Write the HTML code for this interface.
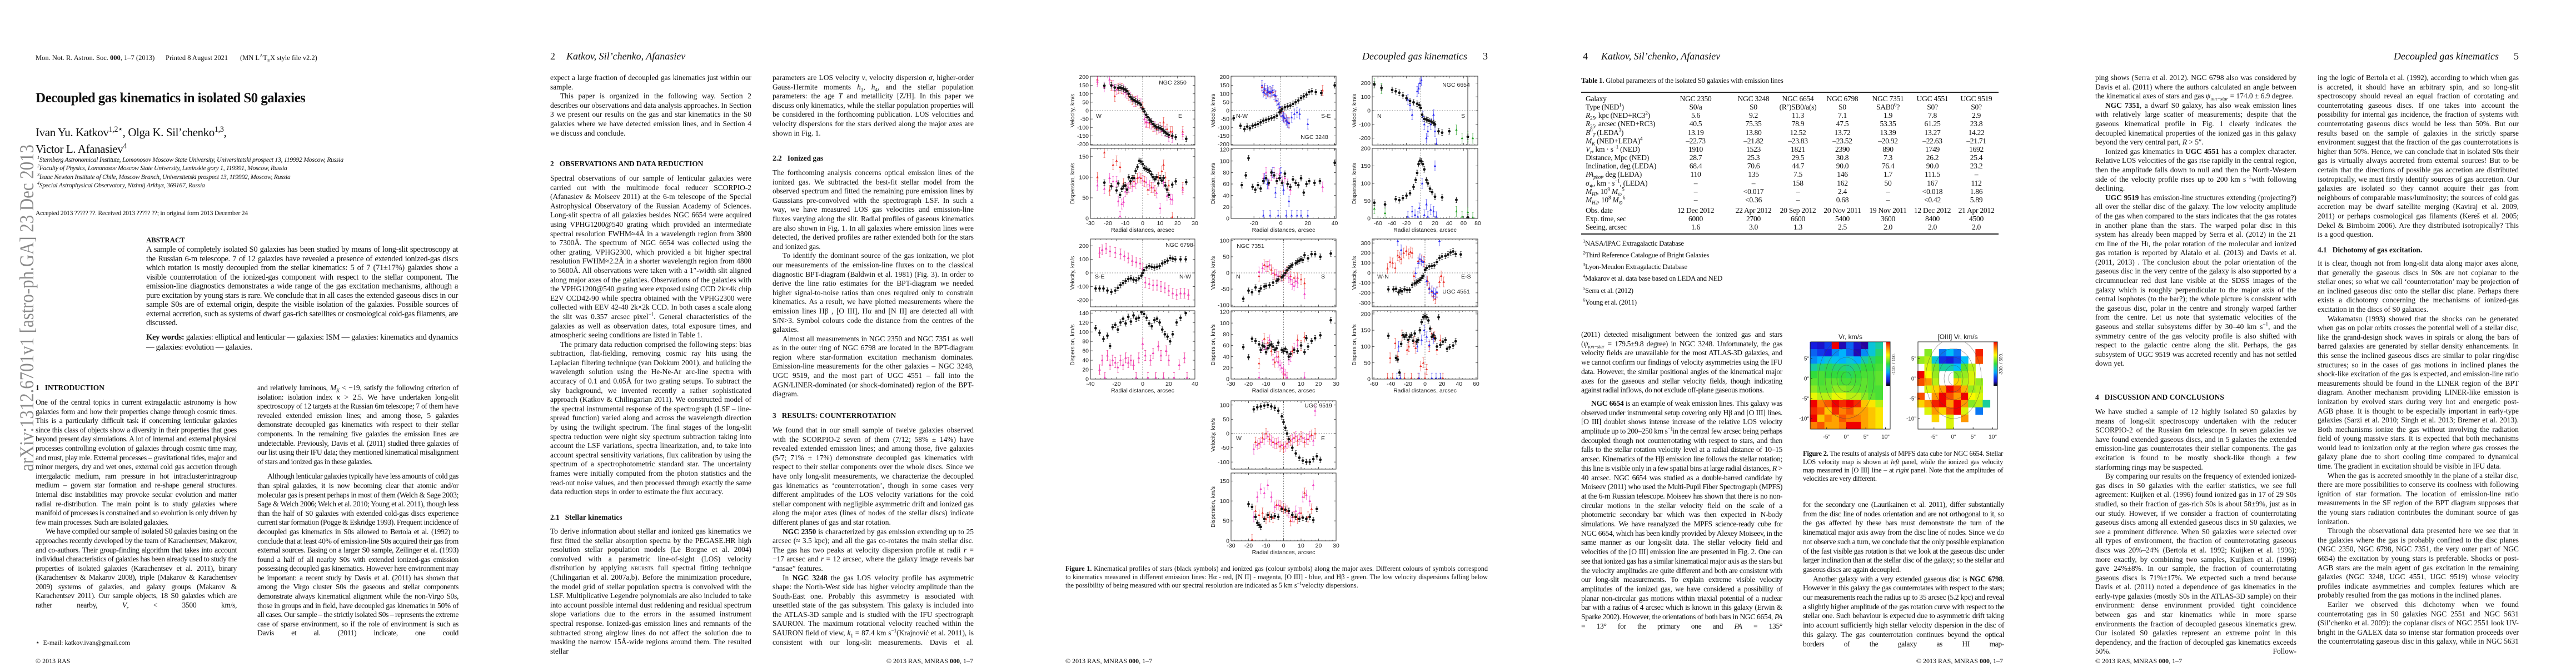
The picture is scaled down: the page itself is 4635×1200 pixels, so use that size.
<!DOCTYPE html>
<html><head><meta charset="utf-8">
<style>
html,body{margin:0;padding:0;background:#fff;}
body{width:4635px;height:1200px;position:relative;overflow:hidden;font-family:"Liberation Serif",serif;color:#111;}
.abs{position:absolute;}
.col{position:absolute;width:362px;text-align:justify;font-size:13.4px;line-height:16.6px;hyphens:auto;}
.col p{margin:0;text-indent:18px;}
.col p.ni{text-indent:0;}
.col p.cont{text-align-last:justify;}
.tc{font-size:13.6px;letter-spacing:-0.35px;word-spacing:-0.3px;}
.hd{position:absolute;font-weight:bold;font-size:13.4px;line-height:16.6px;white-space:nowrap;}
.run{position:absolute;font-style:italic;font-size:18px;white-space:nowrap;}
.foot{position:absolute;font-size:12px;white-space:nowrap;}
sup,sub{font-size:0.68em;line-height:0;}
.tr{position:absolute;font-size:13.6px;white-space:nowrap;line-height:15px;letter-spacing:-0.3px;}
.tv{position:absolute;width:110px;margin-left:-55px;text-align:center;font-size:13.6px;line-height:15px;white-space:nowrap;letter-spacing:-0.3px;}
.fn{position:absolute;font-size:12.8px;white-space:nowrap;letter-spacing:-0.3px;}
svg text{font-family:"Liberation Sans",sans-serif;}
</style></head><body>

<!-- arXiv stamp -->
<svg class="abs" style="left:0;top:0" width="100" height="1200">
<text x="0" y="0" transform="translate(60,848) rotate(-90)" font-family="Liberation Serif, serif" font-size="36" fill="#8a8a8a" textLength="588" lengthAdjust="spacingAndGlyphs" style="font-family:'Liberation Serif',serif">arXiv:1312.6701v1  [astro-ph.GA]  23 Dec 2013</text>
</svg>

<!-- ================= PAGE 1 ================= -->
<div>
<div class="foot" style="left:64px;top:97px;font-size:12.5px">Mon. Not. R. Astron. Soc. <b>000</b>, 1–7 (2013)</div>
<div class="foot" style="left:298px;top:97px;font-size:12.5px">Printed 8 August 2021</div>
<div class="foot" style="left:432px;top:97px;font-size:12.5px">(MN L<sup>A</sup>T<sub>E</sub>X style file v2.2)</div>
<div class="abs" style="left:64px;top:163px;font-size:25px;font-weight:bold;letter-spacing:-0.6px;white-space:nowrap">Decoupled gas kinematics in isolated S0 galaxies</div>
<div class="abs" style="left:64px;top:226px;font-size:21px;letter-spacing:-0.4px;white-space:nowrap">Ivan Yu. Katkov<sup>1,2⋆</sup>, Olga K. Sil’chenko<sup>1,3</sup>,</div>
<div class="abs" style="left:64px;top:256px;font-size:21px;letter-spacing:-0.4px;white-space:nowrap">Victor L. Afanasiev<sup>4</sup></div>
<div class="abs" style="left:67px;top:280px;font-size:11.8px;font-style:italic;line-height:15.3px;white-space:nowrap;letter-spacing:-0.3px">
<div><sup>1</sup>Sternberg Astronomical Institute, Lomonosov Moscow State University, Universitetski prospect 13, 119992 Moscow, Russia</div>
<div><sup>2</sup>Faculty of Physics, Lomonosov Moscow State University, Leninskie gory 1, 119991, Moscow, Russia</div>
<div><sup>3</sup>Isaac Newton Institute of Chile, Moscow Branch, Universitetski prospect 13, 119992, Moscow, Russia</div>
<div><sup>4</sup>Special Astrophysical Observatory, Nizhnij Arkhyz, 369167, Russia</div>
</div>
<div class="abs" style="left:64px;top:376px;font-size:11.8px;white-space:nowrap;letter-spacing:-0.3px">Accepted 2013 ????? ??. Received 2013 ????? ??; in original form 2013 December 24</div>
<div class="abs" style="left:263px;top:425px;font-size:12.8px;font-weight:bold">ABSTRACT</div>
<div class="abs" style="left:263px;top:441px;width:561px;font-size:14.6px;line-height:16.5px;text-align:justify;letter-spacing:-0.35px">A sample of completely isolated S0 galaxies has been studied by means of long-slit spectroscopy at the Russian 6-m telescope. 7 of 12 galaxies have revealed a presence of extended ionized-gas discs which rotation is mostly decoupled from the stellar kinematics: 5 of 7 (71±17%) galaxies show a visible counterrotation of the ionized-gas component with respect to the stellar component. The emission-line diagnostics demonstrates a wide range of the gas excitation mechanisms, although a pure excitation by young stars is rare. We conclude that in all cases the extended gaseous discs in our sample S0s are of external origin, despite the visible isolation of the galaxies. Possible sources of external accretion, such as systems of dwarf gas-rich satellites or cosmological cold-gas filaments, are discussed.</div>
<div class="abs" style="left:263px;top:599px;width:561px;font-size:14.6px;line-height:17.5px;text-align:justify;letter-spacing:-0.35px"><b>Key words:</b>  galaxies: elliptical and lenticular — galaxies: ISM — galaxies: kinematics and dynamics — galaxies: evolution — galaxies.</div>
<div class="hd" style="left:64px;top:690px">1&nbsp;&nbsp;&nbsp;INTRODUCTION</div>
<div class="col tc" style="left:64px;top:716px">
<p class="ni">One of the central topics in current extragalactic astronomy is how galaxies form and how their properties change through cosmic times. This is a particularly difficult task if concerning lenticular galaxies since this class of objects show a diversity in their properties that goes beyond present day simulations. A lot of internal and external physical processes controlling evolution of galaxies through cosmic time may, and must, play role. External processes – gravitational tides, major and minor mergers, dry and wet ones, external cold gas accretion through intergalactic medium, ram pressure in hot intracluster/intragroup medium – govern star formation and re-shape general structures. Internal disc instabilities may provoke secular evolution and matter radial re-distribution. The main point is to study galaxies where manifold of processes is constrained and so evolution is only driven by few main processes. Such are isolated galaxies.</p>
<p class="cont">We have compiled our sample of isolated S0 galaxies basing on the approaches recently developed by the team of Karachentsev, Makarov, and co-authors. Their group-finding algorithm that takes into account individual characteristics of galaxies has been already used to study the properties of isolated galaxies (Karachentsev et al. 2011), binary (Karachentsev &amp; Makarov 2008), triple (Makarov &amp; Karachentsev 2009) systems of galaxies, and galaxy groups (Makarov &amp; Karachentsev 2011). Our sample objects, 18 S0 galaxies which are rather nearby, <i>V<sub>r</sub></i> &lt; 3500 km/s,</p>
</div>
<div class="abs" style="left:64px;top:1149px;font-size:12px">⋆&nbsp; E-mail: katkov.ivan@gmail.com</div>
<div class="col tc" style="left:463px;top:690px">
<p class="ni">and relatively luminous, <i>M<sub>K</sub></i> &lt; −19, satisfy the following criterion of isolation: isolation index <i>κ</i> &gt; 2.5. We have undertaken long-slit spectroscopy of 12 targets at the Russian 6m telescope; 7 of them have revealed extended emission lines; and among those, 5 galaxies demonstrate decoupled gas kinematics with respect to their stellar components. In the remaining five galaxies the emission lines are undetectable. Previously, Davis et al. (2011) studied three galaxies of our list using their IFU data; they mentioned kinematical misalignment of stars and ionized gas in these galaxies.</p>
<p class="cont" style="margin-top:10px">Although lenticular galaxies typically have less amounts of cold gas than spiral galaxies, it is now becoming clear that atomic and/or molecular gas is present perhaps in most of them (Welch &amp; Sage 2003; Sage &amp; Welch 2006; Welch et al. 2010; Young et al. 2011), though less than the half of S0 galaxies with extended cold-gas discs experience current star formation (Pogge &amp; Eskridge 1993). Frequent incidence of decoupled gas kinematics in S0s allowed to Bertola et al. (1992) to conclude that at least 40% of emission-line S0s acquired their gas from external sources. Basing on a larger S0 sample, Zeilinger et al. (1993) found a half of all nearby S0s with extended ionized-gas emission possessing decoupled gas kinematics. However here environment may be important: a recent study by Davis et al. (2011) has shown that among the Virgo cluster S0s the gaseous and stellar components demonstrate always kinematical alignment while the non-Virgo S0s, those in groups and in field, have decoupled gas kinematics in 50% of all cases. Our sample – the strictly isolated S0s – represents the extreme case of sparse environment, so if the role of environment is such as Davis et al. (2011) indicate, one could</p>
</div>
<div class="foot" style="left:64px;top:1182px">© 2013 RAS</div>
</div>

<!-- ================= PAGE 2 ================= -->
<div>
<div class="run" style="left:990px;top:91px;font-style:normal">2</div>
<div class="run" style="left:1019px;top:91px">Katkov, Sil’chenko, Afanasiev</div>
<div class="col" style="left:990px;top:132px">
<p class="ni">expect a large fraction of decoupled gas kinematics just within our sample.</p>
<p>This paper is organized in the following way. Section 2 describes our observations and data analysis approaches. In Section 3 we present our results on the gas and star kinematics in the S0 galaxies where we have detected emission lines, and in Section 4 we discuss and conclude.</p>
</div>
<div class="hd" style="left:990px;top:287px">2&nbsp;&nbsp;&nbsp;OBSERVATIONS AND DATA REDUCTION</div>
<div class="col" style="left:990px;top:313px">
<p class="ni">Spectral observations of our sample of lenticular galaxies were carried out with the multimode focal reducer SCORPIO-2 (Afanasiev &amp; Moiseev 2011) at the 6-m telescope of the Special Astrophysical Observatory of the Russian Academy of Sciences. Long-slit spectra of all galaxies besides NGC 6654 were acquired using VPHG1200@540 grating which provided an intermediate spectral resolution FWHM≈4Å in a wavelength region from 3800 to 7300Å. The spectrum of NGC 6654 was collected using the other grating, VPHG2300, which provided a bit higher spectral resolution FWHM≈2.2Å in a shorter wavelength region from 4800 to 5600Å. All observations were taken with a 1″-width slit aligned along major axes of the galaxies. Observations of the galaxies with the VPHG1200@540 grating were exposed using CCD 2k×4k chip E2V CCD42-90 while spectra obtained with the VPHG2300 were collected with EEV 42-40 2k×2k CCD. In both cases a scale along the slit was 0.357 arcsec pixel<sup>−1</sup>. General characteristics of the galaxies as well as observation dates, total exposure times, and atmospheric seeing conditions are listed in Table 1.</p>
<p>The primary data reduction comprised the following steps: bias subtraction, flat-fielding, removing cosmic ray hits using the Laplacian filtering technique (van Dokkum 2001), and building the wavelength solution using the He-Ne-Ar arc-line spectra with accuracy of 0.1 and 0.05Å for two grating setups. To subtract the sky background, we invented recently a rather sophisticated approach (Katkov &amp; Chilingarian 2011). We constructed model of the spectral instrumental response of the spectrograph (LSF – line-spread function) varied along and across the wavelength direction by using the twilight spectrum. The final stages of the long-slit spectra reduction were night sky spectrum subtraction taking into account the LSF variations, spectra linearization, and, to take into account spectral sensitivity variations, flux calibration by using the spectrum of a spectrophotometric standard star. The uncertainty frames were initially computed from the photon statistics and the read-out noise values, and then processed through exactly the same data reduction steps in order to estimate the flux accuracy.</p>
</div>
<div class="hd" style="left:990px;top:923px">2.1&nbsp;&nbsp;&nbsp;Stellar kinematics</div>
<div class="col" style="left:990px;top:948px">
<p class="ni cont">To derive information about stellar and ionized gas kinematics we first fitted the stellar absorption spectra by the PEGASE.HR high resolution stellar population models (Le Borgne et al. 2004) convolved with a parametric line-of-sight (LOS) velocity distribution by applying <span style="font-variant:small-caps">nbursts</span> full spectral fitting technique (Chilingarian et al. 2007a,b). Before the minimization procedure, the model grid of stellar population spectra is convolved with the LSF. Multiplicative Legendre polynomials are also included to take into account possible internal dust reddening and residual spectrum slope variations due to the errors in the assumed instrument spectral response. Ionized-gas emission lines and remnants of the subtracted strong airglow lines do not affect the solution due to masking the narrow 15Å-wide regions around them. The resulted stellar</p>
</div>
<div class="col" style="left:1390px;top:132px">
<p class="ni">parameters are LOS velocity <i>v</i>, velocity dispersion <i>σ</i>, higher-order Gauss-Hermite moments <i>h</i><sub>3</sub>, <i>h</i><sub>4</sub>, and the stellar population parameters: the age <i>T</i> and metallicity [Z/H]. In this paper we discuss only kinematics, while the stellar population properties will be considered in the forthcoming publication. LOS velocities and velocity dispersions for the stars derived along the major axes are shown in Fig. 1.</p>
</div>
<div class="hd" style="left:1390px;top:277px">2.2&nbsp;&nbsp;&nbsp;Ionized gas</div>
<div class="col" style="left:1390px;top:303px">
<p class="ni">The forthcoming analysis concerns optical emission lines of the ionized gas. We subtracted the best-fit stellar model from the observed spectrum and fitted the remaining pure emission lines by Gaussians pre-convolved with the spectrograph LSF. In such a way, we have measured LOS gas velocities and emission-line fluxes varying along the slit. Radial profiles of gaseous kinematics are also shown in Fig. 1. In all galaxies where emission lines were detected, the derived profiles are rather extended both for the stars and ionized gas.</p>
<p>To identify the dominant source of the gas ionization, we plot our measurements of the emission-line fluxes on to the classical diagnostic BPT-diagram (Baldwin et al. 1981) (Fig. 3). In order to derive the line ratio estimates for the BPT-diagram we needed higher signal-to-noise ratios than ones required only to constrain kinematics. As a result, we have plotted measurements where the emission lines Hβ , [O III], Hα and [N II] are detected all with S/N&gt;3. Symbol colours code the distance from the centres of the galaxies.</p>
<p>Almost all measurements in NGC 2350 and NGC 7351 as well as in the outer ring of NGC 6798 are located in the BPT-diagram region where star-formation excitation mechanism dominates. Emission-line measurements for the other galaxies – NGC 3248, UGC 9519, and the most part of UGC 4551 – fall into the AGN/LINER-dominated (or shock-dominated) region of the BPT-diagram.</p>
</div>
<div class="hd" style="left:1390px;top:740px">3&nbsp;&nbsp;&nbsp;RESULTS: COUNTERROTATION</div>
<div class="col" style="left:1390px;top:766px">
<p class="ni">We found that in our small sample of twelve galaxies observed with the SCORPIO-2 seven of them (7/12; 58% ± 14%) have revealed extended emission lines; and among those, five galaxies (5/7; 71% ± 17%) demonstrate decoupled gas kinematics with respect to their stellar components over the whole discs. Since we have only long-slit measurements, we characterize the decoupled gas kinematics as ‘counterrotation’, though in some cases very different amplitudes of the LOS velocity variations for the cold stellar component with negligible asymmetric drift and ionized gas along the major axes (lines of nodes of the stellar discs) indicate different planes of gas and star rotation.</p>
<p><b>NGC 2350</b> is characterized by gas emission extending up to 25 arcsec (≈ 3.5 kpc); and all the gas co-rotates the main stellar disc. The gas has two peaks at velocity dispersion profile at radii <i>r</i> = −17 arcsec and <i>r</i> = 12 arcsec, where the galaxy image reveals bar “ansae” features.</p>
<p class="cont">In <b>NGC 3248</b> the gas LOS velocity profile has asymmetric shape: the North-West side has higher velocity amplitude than the South-East one. Probably this asymmetry is associated with unsettled state of the gas subsystem. This galaxy is included into the ATLAS-3D sample and is studied with the IFU spectrograph SAURON. The maximum rotational velocity reached within the SAURON field of view, <i>k</i><sub>1</sub> = 87.4 km s<sup>−1</sup>(Krajnović et al. 2011), is consistent with our long-slit measurements. Davis et al.</p>
</div>
<div class="foot" style="left:1751px;top:1182px;transform:translateX(-100%)">© 2013 RAS, MNRAS <b>000</b>, 1–7</div>
</div>

<!-- ================= PAGE 3 ================= -->
<div>
<div class="run" style="left:2640px;top:91px;transform:translateX(-100%)">Decoupled gas kinematics</div>
<div class="run" style="left:2668px;top:91px;font-style:normal">3</div>
<svg id="fig1" class="abs" style="left:0;top:0" width="4635" height="1200"></svg>
<div class="abs" style="left:1917px;top:1016px;width:760px;font-size:12.3px;line-height:15px;text-align:justify"><b>Figure 1.</b> Kinematical profiles of stars (black symbols) and ionized gas (colour symbols) along the major axes. Different colours of symbols correspond to kinematics measured in different emission lines: Hα - red, [N II] - magenta, [O III] - blue, and Hβ - green. The low velocity dispersions falling below the possibility of being measured with our spectral resolution are indicated as 5 km s<sup>−1</sup>velocity dispersions.</div>
<div class="foot" style="left:1917px;top:1182px">© 2013 RAS, MNRAS <b>000</b>, 1–7</div>
</div>

<!-- ================= PAGE 4 ================= -->
<div>
<div class="run" style="left:2848px;top:91px;font-style:normal">4</div>
<div class="run" style="left:2881px;top:91px">Katkov, Sil’chenko, Afanasiev</div>
<div class="abs" style="left:2845px;top:137px;font-size:13px;white-space:nowrap;letter-spacing:-0.3px"><b>Table 1.</b> Global parameters of the isolated S0 galaxies with emission lines</div>
<div class="abs" style="left:2845px;top:165px;width:751px;height:2px;background:#222"></div>
<div class="abs" style="left:2845px;top:420px;width:751px;height:2px;background:#222"></div>
<div id="table1"></div>
<div class="fn" style="left:2848px;top:431px"><sup>1</sup>NASA/IPAC Extragalactic Database</div>
<div class="fn" style="left:2848px;top:452px"><sup>2</sup>Third Reference Catalogue of Bright Galaxies</div>
<div class="fn" style="left:2848px;top:473px"><sup>3</sup>Lyon-Meudon Extragalactic Database</div>
<div class="fn" style="left:2848px;top:494px"><sup>4</sup>Makarov et al. data base based on LEDA and NED</div>
<div class="fn" style="left:2848px;top:516px"><sup>5</sup>Serra et al. (2012)</div>
<div class="fn" style="left:2848px;top:537px"><sup>6</sup>Young et al. (2011)</div>
<div class="col tc" style="left:2845px;top:594px;line-height:16.7px">
<p class="ni">(2011) detected misalignment between the ionized gas and stars (<i>ψ<sub>ion−star</sub></i> = 179.5±9.8 degree) in NGC 3248. Unfortunately, the gas velocity fields are unavailable for the most ATLAS-3D galaxies, and we cannot confirm our findings of velocity asymmetries using the IFU data. However, the similar positional angles of the kinematical major axes for the gaseous and stellar velocity fields, though indicating against radial inflows, do not exclude off-plane gaseous motions.</p>
<p class="cont" style="margin-top:7px"><b>NGC 6654</b> is an example of weak emission lines. This galaxy was observed under instrumental setup covering only Hβ and [O III] lines. [O III] doublet shows intense increase of the relative LOS velocity amplitude up to 200–250 km s<sup>−1</sup>in the central few arcsec being perhaps decoupled though not counterrotating with respect to stars, and then falls to the stellar rotation velocity level at a radial distance of 10–15 arcsec. Kinematics of the Hβ emission line follows the stellar rotation; this line is visible only in a few spatial bins at large radial distances, <i>R</i> &gt; 40 arcsec. NGC 6654 was studied as a double-barred candidate by Moiseev (2011) who used the Multi-Pupil Fiber Spectrograph (MPFS) at the 6-m Russian telescope. Moiseev has shown that there is no non-circular motions in the stellar velocity field on the scale of a photometric secondary bar which was then expected in N-body simulations. We have reanalyzed the MPFS science-ready cube for NGC 6654, which has been kindly provided by Alexey Moiseev, in the same manner as our long-slit data. The stellar velocity field and velocities of the [O III] emission line are presented in Fig. 2. One can see that ionized gas has a similar kinematical major axis as the stars but the velocity amplitudes are quite different and both are consistent with our long-slit measurements. To explain extreme visible velocity amplitudes of the ionized gas, we have considered a possibility of planar non-circular gas motions within triaxial potential of a nuclear bar with a radius of 4 arcsec which is known in this galaxy (Erwin &amp; Sparke 2002). However, the orientations of both bars in NGC 6654, <i>PA</i> = 13° for the primary one and <i>PA</i> = 135°</p>
</div>
<svg id="fig2" class="abs" style="left:3230px;top:590px" width="390" height="210"></svg>
<div class="abs" style="left:3244px;top:809px;width:360px;font-size:12.6px;line-height:15px;text-align:justify;letter-spacing:-0.3px"><b>Figure 2.</b> The results of analysis of MPFS data cube for NGC 6654. Stellar LOS velocity map is shown at <i>left</i> panel, while the ionized gas velocity map measured in [O III] line – at <i>right</i> panel. Note that the amplitudes of velocities are very different.</div>
<div class="col tc" style="left:3244px;top:900px;line-height:16.7px">
<p class="ni">for the secondary one (Laurikainen et al. 2011), differ substantially from the disc line of nodes orientation and are not orthogonal to it, so the gas affected by these bars must demonstrate the turn of the kinematical major axis away from the disc line of nodes. Since we do not observe such a turn, we conclude that the only possible explanation of the fast visible gas rotation is that we look at the gaseous disc under larger inclination than at the stellar disc of the galaxy; so the stellar and gaseous discs are again decoupled.</p>
<p class="cont">Another galaxy with a very extended gaseous disc is <b>NGC 6798</b>. However in this galaxy the gas counterrotates with respect to the stars; our measurements reach the radius up to 35 arcsec (5.2 kpc) and reveal a slightly higher amplitude of the gas rotation curve with respect to the stellar one. Such behaviour is expected due to asymmetric drift taking into account sufficiently high stellar velocity dispersion in the disc of this galaxy. The gas counterrotation continues beyond the optical borders of the galaxy as HI map-</p>
</div>
<div class="foot" style="left:3604px;top:1182px;transform:translateX(-100%)">© 2013 RAS, MNRAS <b>000</b>, 1–7</div>
</div>

<!-- ================= PAGE 5 ================= -->
<div>
<div class="run" style="left:4496px;top:91px;transform:translateX(-100%)">Decoupled gas kinematics</div>
<div class="run" style="left:4523px;top:91px;font-style:normal">5</div>
<div class="col" style="left:3770px;top:132px">
<p class="ni">ping shows (Serra et al. 2012). NGC 6798 also was considered by Davis et al. (2011) where the authors calculated an angle between the kinematical axes of stars and gas <i>ψ<sub>ion−star</sub></i> = 174.0 ± 6.9 degree.</p>
<p><b>NGC 7351</b>, a dwarf S0 galaxy, has also weak emission lines with relatively large scatter of measurements; despite that the gaseous kinematical profile in Fig. 1 clearly indicates the decoupled kinematical properties of the ionized gas in this galaxy beyond the very central part, <i>R</i> &gt; 5″.</p>
<p>Ionized gas kinematics in <b>UGC 4551</b> has a complex character. Relative LOS velocities of the gas rise rapidly in the central region, then the amplitude falls down to null and then the North-Western side of the velocity profile rises up to 200 km s<sup>−1</sup>with following declining.</p>
<p><b>UGC 9519</b> has emission-line structures extending (projecting?) all over the stellar disc of the galaxy. The low velocity amplitude of the gas when compared to the stars indicates that the gas rotates in another plane than the stars. The warped polar disc in this system has already been mapped by Serra et al. (2012) in the 21 cm line of the H<span style="font-variant:small-caps">i</span>, the polar rotation of the molecular and ionized gas rotation is reported by Alatalo et al. (2013) and Davis et al. (2011, 2013) . The conclusion about the polar orientation of the gaseous disc in the very centre of the galaxy is also supported by a circumnuclear red dust lane visible at the SDSS images of the galaxy which is roughly perpendicular to the major axis of the central isophotes (to the bar?); the whole picture is consistent with the gaseous disc, polar in the centre and strongly warped farther from the centre. Let us note that systematic velocities of the gaseous and stellar subsystems differ by 30–40 km s<sup>−1</sup>, and the symmetry centre of the gas velocity profile is also shifted with respect to the galactic centre along the slit. Perhaps, the gas subsystem of UGC 9519 was accreted recently and has not settled down yet.</p>
</div>
<div class="hd" style="left:3770px;top:707px">4&nbsp;&nbsp;&nbsp;DISCUSSION AND CONCLUSIONS</div>
<div class="col" style="left:3770px;top:733px">
<p class="ni">We have studied a sample of 12 highly isolated S0 galaxies by means of long-slit spectroscopy undertaken with the reducer SCORPIO-2 of the Russian 6m telescope. In seven galaxies we have found extended gaseous discs, and in 5 galaxies the extended emission-line gas counterrotates their stellar components. The gas excitation is found to be mostly shock-like though a few starforming rings may be suspected.</p>
<p class="cont">By comparing our results on the frequency of extended ionized-gas discs in S0 galaxies with the earlier statistics, we see full agreement: Kuijken et al. (1996) found ionized gas in 17 of 29 S0s studied, so their fraction of gas-rich S0s is about 58±9%, just as in our study. However, if we consider a fraction of counterrotating gaseous discs among all extended gaseous discs in S0 galaxies, we see a prominent difference. When S0 galaxies were selected over all types of environment, the fraction of counterrotating gaseous discs was 20%–24% (Bertola et al. 1992; Kuijken et al. 1996); more exactly, by combining two samples, Kuijken et al. (1996) gave 24%±8%. In our sample, the fraction of counterrotating gaseous discs is 71%±17%. We expected such a trend because Davis et al. (2011) noted a dependence of gas kinematics in the early-type galaxies (mostly S0s in the ATLAS-3D sample) on their environment: dense environment provided tight coincidence between gas and star kinematics while in more sparse environments the fraction of decoupled gaseous kinematics grew. Our isolated S0 galaxies represent an extreme point in this dependency, and the fraction of decoupled gas kinematics exceeds 50%. Follow-</p>
</div>
<div class="col" style="left:4170px;top:132px">
<p class="ni">ing the logic of Bertola et al. (1992), according to which when gas is accreted, it should have an arbitrary spin, and so long-slit spectroscopy should reveal an equal fraction of corotating and counterrotating gaseous discs. If one takes into account the possibility for internal gas incidence, the fraction of systems with counterrotating gaseous discs would be less than 50%. But our results based on the sample of galaxies in the strictly sparse environment suggest that the fraction of the gas counterrotations is higher than 50%. Hence, we can conclude that in isolated S0s their gas is virtually always accreted from external sources! But to be certain that the directions of possible gas accretion are distributed isotropically, we must firstly identify sources of gas accretion. Our galaxies are isolated so they cannot acquire their gas from neighbours of comparable mass/luminosity; the sources of cold gas accretion may be dwarf satellite merging (Kaviraj et al. 2009, 2011) or perhaps cosmological gas filaments (Kereš et al. 2005; Dekel &amp; Birnboim 2006). Are they distributed isotropically? This is a good question.</p>
</div>
<div class="hd" style="left:4170px;top:442px">4.1&nbsp;&nbsp;&nbsp;Dichotomy of gas excitation.</div>
<div class="col" style="left:4170px;top:466px">
<p class="ni">It is clear, though not from long-slit data along major axes alone, that generally the gaseous discs in S0s are not coplanar to the stellar ones; so what we call ‘counterrotation’ may be projection of an inclined gaseous disc onto the stellar disc plane. Perhaps there exists a dichotomy concerning the mechanisms of ionized-gas excitation in the discs of S0 galaxies.</p>
<p>Wakamatsu (1993) showed that the shocks can be generated when gas on polar orbits crosses the potential well of a stellar disc, like the grand-design shock waves in spirals or along the bars of barred galaxies are generated by stellar density enhancements. In this sense the inclined gaseous discs are similar to polar ring/disc structures; so in the cases of gas motions in inclined planes the shock-like excitation of the gas is expected, and emission-line ratio measurements should be found in the LINER region of the BPT diagram. Another mechanism providing LINER-like emission is ionization by evolved stars during very hot and energetic post-AGB phase. It is thought to be especially important in early-type galaxies (Sarzi et al. 2010; Singh et al. 2013; Bremer et al. 2013). Both mechanisms ionize the gas without involving the radiation field of young massive stars. It is expected that both mechanisms would lead to ionization only at the region where gas crosses the galaxy plane due to short cooling time compared to dynamical time. The gradient in excitation should be visible in IFU data.</p>
<p>When the gas is accreted smoothly in the plane of a stellar disc, there are more possibilities to conserve its coolness with following ignition of star formation. The location of emission-line ratio measurements in the SF region of the BPT diagram supposes that the young stars radiation contributes the dominant source of gas ionization.</p>
<p>Through the observational data presented here we see that in the galaxies where the gas is probably confined to the disc planes (NGC 2350, NGC 6798, NGC 7351, the very outer part of NGC 6654) the excitation by young stars is preferable. Shocks or post-AGB stars are the main agent of gas excitation in the remaining galaxies (NGC 3248, UGC 4551, UGC 9519) whose velocity profiles indicate asymmetries and complex features which are probably resulted from the gas motions in the inclined planes.</p>
<p class="cont">Earlier we observed this dichotomy when we found counterrotating gas in S0 galaxies NGC 2551 and NGC 5631 (Sil’chenko et al. 2009): the coplanar discs of NGC 2551 look UV-bright in the GALEX data so intense star formation proceeds over the counterrotating gaseous disc in this galaxy, while in NGC 5631</p>
</div>
<div class="foot" style="left:3770px;top:1182px">© 2013 RAS, MNRAS <b>000</b>, 1–7</div>
</div>

<script>
// ---------- Table 1 data ----------
const tableGalaxies = ["NGC 2350","NGC 3248","NGC 6654","NGC 6798","NGC 7351","UGC 4551","UGC 9519"];
const tableRowLabels = ["Galaxy","Type (NED<sup>1</sup>)","<i>R</i><sub>25</sub>, kpc (NED+RC3<sup>2</sup>)","<i>R</i><sub>25</sub>, arcsec (NED+RC3)","<i>B</i><sup>0</sup><sub><i>T</i></sub> (LEDA<sup>3</sup>)","<i>M<sub>K</sub></i> (NED+LEDA)<sup>4</sup>","<i>V<sub>r</sub></i>, km · s<sup>−1</sup> (NED)","Distance, Mpc (NED)","Inclination, deg (LEDA)","<i>PA<sub>phot</sub></i>, deg (LEDA)","<i>σ</i><sub>∗</sub>, km · <i>s</i><sup>−1</sup>, (LEDA)","<i>M<sub>HI</sub></i>, 10<sup>9</sup> <i>M</i><sub>⊙</sub><sup>5</sup>","<i>M</i><sub><i>H</i>2</sub>, 10<sup>8</sup> <i>M</i><sub>⊙</sub><sup>6</sup>","Obs. date","Exp. time, sec","Seeing, arcsec"];
const tableRows = [
 tableGalaxies,
 ["S0/a","S0","(R’)SB0/a(s)","S0","SAB0<sup>0</sup>?","S0?","S0?"],
 ["5.6","9.2","11.3","7.1","1.9","7.8","2.9"],
 ["40.5","75.35","78.9","47.5","53.35","61.25","23.8"],
 ["13.19","13.80","12.52","13.72","13.39","13.27","14.22"],
 ["–22.73","–21.82","–23.83","–23.52","–20.92","–22.63","–21.71"],
 ["1910","1523","1821","2390","890","1749","1692"],
 ["28.7","25.3","29.5","30.8","7.3","26.2","25.4"],
 ["68.4","70.6","44.7","90.0","76.4","90.0","23.2"],
 ["110","135","7.5","146","1.7","111.5","–"],
 ["–","–","158","162","50","167","112"],
 ["–","&lt;0.017","–","2.4","–","&lt;0.018","1.86"],
 ["–","&lt;0.36","–","0.68","–","&lt;0.42","5.89"],
 ["12 Dec 2012","22 Apr 2012","20 Sep 2012","20 Nov 2011","19 Nov 2011","12 Dec 2012","21 Apr 2012"],
 ["6000","2700","6600","5400","3600","8400","4500"],
 ["1.6","3.0","1.3","2.5","2.0","2.0","2.0"]
];
(function(){
 const host=document.getElementById('table1');
 const colX=[3051,3155,3235,3315,3397,3477,3556];
 for(let r=0;r<tableRows.length;r++){
  const yc = r<13 ? 178+r*15.15 : 379+(r-13)*15.1;
  const lab=document.createElement('div');
  lab.className='tr';
  lab.style.left='2853px'; lab.style.top=(yc-8)+'px';
  lab.innerHTML=tableRowLabels[r];
  
  
  host.appendChild(lab);
  for(let c=0;c<7;c++){
   const d=document.createElement('div');
   d.className='tv';
   d.style.left=colX[c]+'px'; d.style.top=(yc-8)+'px';
   d.innerHTML=tableRows[r][c];
   
   
   host.appendChild(d);
  }
 }
})();

// ---------- Figure 1 data (radius arcsec, km/s) ----------
const ngc2350_vel_star=[[-22,148],[-18,150],[-16,137],[-14,135],[-13,137],[-12,133],[-11,130],[-10,125],[-9,115],[-8,100],[-7,80],[-6,70],[-5,62],[-4,55],[-3,50],[-2,45],[-1,35],[0,10],[1,-5],[2,-25],[3,-40],[4,-55],[5,-65],[6,-80],[7,-90],[8,-100],[9,-100],[10,-105],[11,-110],[12,-120],[13,-130],[14,-138],[15,-145],[17,-150],[19,-158],[25,-168]];
const ngc2350_vel_nii=[[-26,172],[-22,140],[-19,185],[-17,150],[-15,125],[-13,135],[-11,125],[-10,110],[-9,100],[-7,80],[-5,55],[-3,60],[-1,40],[1,-50],[2,-65],[3,-70],[5,-80],[7,-95],[9,-105],[11,-120],[13,-125],[15,-155],[17,-160],[23,-140]];
const ngc2350_vel_ha=[[-26,185],[-18,150],[-16,85],[-14,130],[-12,130],[-10,110],[-8,90],[-6,65],[-4,55],[-2,45],[0,20],[2,-70],[4,-75],[6,-95],[8,-110],[10,-100],[12,-70],[14,-110],[16,-125],[17,-125],[23,-125]];
const ngc2350_disp_star=[[-22,87],[-18,78],[-15,68],[-14,85],[-13,57],[-12,72],[-11,78],[-10,80],[-9,70],[-8,100],[-7,90],[-6,98],[-5,98],[-4,115],[-3,125],[-2,140],[-1,138],[0,132],[1,122],[2,120],[3,118],[4,115],[5,107],[6,100],[7,95],[8,100],[9,85],[10,98],[11,92],[12,98],[13,80],[14,70],[15,57],[17,82],[19,90],[25,88]];
const ngc2350_disp_nii=[[-26,80],[-22,72],[-19,98],[-17,90],[-15,90],[-14,42],[-13,5],[-12,35],[-11,40],[-10,65],[-9,72],[-8,75],[-6,78],[-4,85],[-2,100],[0,92],[2,88],[4,80],[6,75],[8,62],[10,25],[12,88],[14,55],[16,47],[17,46],[23,70]];
const ngc2350_disp_ha=[[-26,100],[-22,160],[-19,68],[-17,130],[-15,140],[-13,125],[-11,85],[-9,70],[-7,85],[-5,90],[-3,98],[-1,98],[1,90],[3,70],[5,75],[7,68],[9,100],[11,115],[12,130],[13,100],[15,80],[17,3],[23,75]];

const ngc3248_vel_star=[[-35,-45],[-30,-90],[-27,-110],[-25,-95],[-23,-105],[-21,-90],[-19,-85],[-17,-80],[-15,-70],[-13,-60],[-11,-55],[-9,-50],[-7,-45],[-5,-40],[-3,-30],[-1,-10],[0,0],[1,10],[3,20],[5,25],[7,30],[9,40],[11,50],[13,60],[15,75],[17,85],[19,95],[21,110],[23,115],[26,110],[30,105],[40,150]];
const ngc3248_vel_oiii=[[-14,150],[-13,110],[-12,130],[-11,100],[-10,120],[-9,110],[-8,115],[-7,110],[-6,120],[-5,95],[-4,90],[-3,60],[-2,40],[-1,20],[0,-5],[1,-30],[2,-40],[3,-45],[4,-60],[5,-70],[6,-75],[8,-40],[10,-20],[12,-10],[14,-20],[20,-80]];
const ngc3248_vel_nii=[[-14,140],[-12,120],[-10,110],[-8,105],[-6,110],[-4,85],[-2,40],[0,-10],[2,-35],[4,-55],[6,-70],[31,120]];
const ngc3248_disp_star=[[-29,58],[-26,75],[-24,105],[-21,55],[-19,50],[-17,58],[-15,52],[-13,65],[-11,70],[-9,62],[-7,80],[-5,75],[-3,65],[-1,70],[1,62],[3,78],[5,60],[7,55],[9,68],[11,62],[13,58],[15,70],[17,45],[19,60],[21,65],[25,62],[29,65],[40,97]];
const ngc3248_disp_oiii=[[-13,5],[-12,70],[-10,60],[-8,5],[-6,80],[-4,45],[-2,5],[0,80],[2,50],[4,5],[6,30],[8,5],[12,5],[15,5],[20,5]];
const ngc3248_disp_nii=[[-13,70],[-11,80],[-9,60],[-7,75],[-5,80],[-3,70],[-1,78],[1,65],[3,70],[5,60],[7,50],[31,55]];

const ngc6654_vel_star=[[-65,190],[-55,165],[-40,150],[-35,140],[-30,130],[-25,110],[-20,90],[-15,70],[-10,60],[-5,50],[-2,40],[0,20],[2,-30],[5,-60],[8,-65],[10,-70],[12,-75],[15,-80],[18,-90],[20,-100],[25,-150],[30,-160],[40,-150],[66,-190]];
const ngc6654_vel_hb=[[-65,200],[-55,160],[50,-140],[58,-200],[66,-190],[73,-200]];
const ngc6654_vel_oiii=[[-18,80],[-15,40],[-12,-30],[-5,140],[-3,160],[-1,200],[1,220],[3,-40],[5,-100],[8,-200],[10,-150],[14,-100],[18,-30],[20,-150],[22,-240]];
const ngc6654_disp_star=[[-65,45],[-50,40],[-35,55],[-30,52],[-25,58],[-20,65],[-15,72],[-10,90],[-7,110],[-5,130],[-3,155],[-1,165],[1,163],[3,155],[5,140],[8,110],[10,100],[13,85],[16,75],[20,62],[30,60],[50,53],[66,3]];
const ngc6654_disp_hb=[[-65,28],[-50,15],[50,20],[58,5],[66,18],[73,3]];
const ngc6654_disp_oiii=[[-18,5],[-12,20],[-8,10],[-4,5],[-2,30],[2,100],[5,10],[8,40],[10,5],[14,25],[18,20],[20,150],[22,5]];

const ngc6798_vel_star=[[-36,-115],[-33,-115],[-30,-115],[-27,-130],[-24,-140],[-21,-130],[-19,-110],[-17,-90],[-15,-75],[-13,-60],[-11,-45],[-9,-40],[-7,-50],[-5,-55],[-3,-40],[-1,-20],[0,0],[1,20],[3,40],[5,50],[7,45],[9,40],[11,45],[13,50],[15,70],[17,80],[19,90],[21,110],[23,105],[25,100],[29,100],[33,100]];
const ngc6798_vel_nii=[[-33,150],[-31,170],[-28,180],[-25,160],[-21,150],[-17,140],[-14,125],[-11,110],[-8,90],[-5,80],[-2,70],[0,30],[2,-70],[5,-80],[8,-90],[11,-90],[14,-100],[17,-110],[20,-130],[23,-150],[26,-160],[29,-150],[32,-150],[35,-160]];
const ngc6798_disp_star=[[-36,108],[-33,98],[-30,85],[-27,92],[-25,70],[-23,110],[-21,115],[-19,105],[-17,120],[-15,128],[-13,118],[-11,132],[-9,122],[-7,135],[-5,128],[-3,130],[-1,142],[1,138],[3,130],[5,118],[7,112],[9,125],[11,128],[13,120],[15,105],[17,95],[19,90],[21,80],[23,95],[26,120],[29,130],[33,140]];
const ngc6798_disp_nii=[[-33,20],[-31,40],[-29,3],[-27,50],[-25,30],[-23,40],[-21,35],[-19,25],[-17,40],[-15,30],[-13,45],[-11,35],[-9,40],[-7,30],[-5,3],[-3,45],[0,75],[2,50],[4,3],[6,40],[8,55],[10,3],[12,70],[14,50],[16,3],[18,60],[20,40],[24,3],[28,30],[32,45],[34,3]];

const ngc7351_vel_star=[[-23,-80],[-20,-55],[-18,-60],[-16,-45],[-14,-57],[-13,-48],[-11,-42],[-10,-40],[-8,-38],[-6,-30],[-4,-25],[-3,-20],[-1,-14],[0,-8],[1,0],[2,8],[3,15],[4,20],[5,25],[7,30],[8,35],[9,38],[10,42],[11,40],[12,55],[14,45],[16,58],[18,58],[21,50],[27,60]];
const ngc7351_vel_nii=[[-14,3],[-12,15],[-10,20],[-8,25],[-6,0],[-4,-5],[-3,-10],[-1,-12],[1,-3],[3,-15],[4,-20],[5,-35],[6,-40],[7,-25],[8,-30],[12,-65]];
const ngc7351_vel_ha=[[-14,-10],[-11,25],[-9,20],[-7,10],[-5,-5],[-2,-10],[0,-8],[2,5],[4,-10],[6,-15],[8,-15],[10,-20],[12,-32]];
const ngc7351_disp_star=[[-23,57],[-20,39],[-18,72],[-16,68],[-14,62],[-13,52],[-12,60],[-11,58],[-10,48],[-9,55],[-8,60],[-7,62],[-6,58],[-5,52],[-4,55],[-3,65],[-1,52],[0,50],[1,54],[2,48],[3,40],[4,45],[6,52],[8,50],[10,60],[12,48],[13,73],[14,58],[16,68],[18,73],[21,78],[27,105]];
const ngc7351_disp_nii=[[-14,3],[-12,60],[-10,55],[-8,70],[-6,35],[-4,40],[-3,30],[-2,25],[-1,20],[0,15],[1,8],[2,3],[3,35],[4,40],[6,55],[8,60],[12,3]];
const ngc7351_disp_ha=[[-14,28],[-11,72],[-9,65],[-7,50],[-5,30],[-3,40],[0,10],[2,3],[5,50],[8,70],[10,60],[12,75]];

const ugc4551_vel_star=[[-43,-165],[-37,-165],[-34,-160],[-31,-195],[-29,-175],[-27,-185],[-24,-165],[-21,-172],[-18,-170],[-15,-120],[-12,-105],[-10,-95],[-8,-80],[-6,-70],[-4,-50],[-2,-30],[0,30],[2,50],[5,65],[8,70],[11,75],[14,110],[17,150],[20,165],[24,170],[27,185],[30,205],[33,215],[36,190],[42,185]];
const ugc4551_vel_ha=[[-44,45],[-41,110],[-38,100],[-35,50],[-32,175],[-30,160],[-28,140],[-25,200],[-22,220],[-19,190],[-17,210],[-15,200],[-13,-30],[-8,120],[-4,130],[-1,115],[3,-80],[5,-150],[8,-190],[10,-230],[12,-260],[14,-200],[17,-90],[19,-30],[22,-90]];
const ugc4551_vel_oiii=[[-32,320],[-28,230],[-11,0],[-8,100],[-6,140],[-4,120],[-2,110],[2,-80],[5,-160],[8,-180],[10,-200],[12,-210],[14,-190],[17,320]];
const ugc4551_disp_star=[[-43,133],[-34,65],[-32,60],[-30,20],[-28,108],[-26,135],[-24,130],[-22,135],[-20,120],[-18,130],[-16,135],[-14,118],[-12,140],[-10,115],[-8,120],[-6,150],[-4,175],[-2,190],[0,193],[2,190],[4,180],[6,155],[8,130],[10,135],[12,125],[14,100],[16,190],[18,105],[21,115],[24,120],[26,93],[29,98],[33,103],[36,116]];
const ugc4551_disp_ha=[[-44,3],[-41,65],[-38,3],[-35,110],[-32,70],[-29,3],[-27,135],[-24,3],[-21,90],[-19,100],[-16,3],[-13,115],[-11,95],[-8,3],[-5,40],[-2,50],[0,3],[2,30],[5,100],[8,140],[11,130],[14,90],[18,120],[21,3]];
const ugc4551_disp_oiii=[[-33,3],[-31,100],[-29,3],[-9,100],[-7,3],[-4,120],[-1,150],[2,130],[5,105],[8,3],[10,125],[13,3],[18,3]];

const ugc9519_vel_star=[[-17,85],[-15,92],[-13,95],[-11,98],[-9,100],[-7,95],[-5,90],[-3,80],[-1,60],[0,40],[1,20],[2,0],[3,-20],[5,-50],[7,-70],[9,-85],[11,-95],[13,-100],[15,-100],[17,-90],[19,-80],[21,-92]];
const ugc9519_vel_nii=[[-17,-55],[-15,-40],[-13,-30],[-11,-20],[-9,-10],[-7,-25],[-5,-35],[-3,-30],[-1,-40],[1,-45],[3,-30],[5,-20],[7,-10],[9,-20],[11,-15],[13,-20],[15,-10],[17,-25],[18,80]];
const ugc9519_vel_ha=[[-16,-30],[-14,-35],[-12,-15],[-10,0],[-8,-20],[-6,-30],[-4,-35],[-2,-45],[0,-50],[2,-35],[4,-25],[6,-15],[8,-25],[10,-10],[12,-30],[14,-20],[16,-5],[18,0]];
const ugc9519_disp_star=[[-20,92],[-18,85],[-16,60],[-15,45],[-14,40],[-13,35],[-11,55],[-9,65],[-7,60],[-5,62],[-3,60],[-1,80],[1,78],[3,75],[5,65],[7,60],[9,55],[11,58],[13,55],[15,60],[17,52],[19,80]];
const ugc9519_disp_nii=[[-17,60],[-15,110],[-13,130],[-11,120],[-9,140],[-7,110],[-5,85],[-3,90],[-1,85],[1,80],[3,70],[5,60],[7,75],[9,70],[11,110],[13,115],[15,100],[17,140]];
const ugc9519_disp_ha=[[-18,3],[-16,75],[-14,65],[-12,70],[-10,55],[-8,60],[-6,58],[-4,90],[-2,88],[0,80],[2,75],[4,50],[6,60],[8,55],[10,70],[12,120],[14,60],[16,80]];

const xticks_30=[-30,-20,-10,0,10,20,30];
const xticks_3248=[-20,0,20,40];
const xticks_6654=[-60,-40,-20,0,20,40,60,80];
const xticks_40=[-40,-20,0,20,40];
const xticks_60=[-60,-40,-20,0,20,40,60];
const yticks_v200=[-200,-150,-100,-50,0,50,100,150,200];
const yticks_v200b=[-200,-100,0,100,200];
const yticks_v300=[-300,-200,-100,0,100,200,300];
const yticks_v100=[-100,-50,0,50,100];
const yticks_d150=[0,50,100,150];
const yticks_d200=[0,50,100,150,200];
const yticks_d120=[0,20,40,60,80,100,120];
const yticks_d140=[0,20,40,60,80,100,120,140];

const C_HA='#e8302a', C_NII='#f03cc0', C_OIII='#2b2bf0', C_HB='#22a022';
const NS='http://www.w3.org/2000/svg';
function mk(tag,parent){const e=document.createElementNS(NS,tag);parent.appendChild(e);return e;}
function setA(e,o){for(const k in o)e.setAttribute(k,o[k]);}
let clipId=0;
function drawPanel(svg,P){
 const g=mk('g',svg);
 
 
 const sx=v=>P.x0+(v-P.xd[0])/(P.xd[1]-P.xd[0])*(P.x1-P.x0);
 const sy=v=>P.y1-(v-P.yd[0])/(P.yd[1]-P.yd[0])*(P.y1-P.y0);
 const cid='clip'+(clipId++);
 const cp=mk('clipPath',g); cp.setAttribute('id',cid);
 const cr=mk('rect',cp); setA(cr,{x:P.x0,y:P.y0,width:P.x1-P.x0,height:P.y1-P.y0});
 // zero lines
 if(P.yd[0]<0&&P.yd[1]>0){const l=mk('line',g);setA(l,{x1:P.x0,x2:P.x1,y1:sy(0),y2:sy(0),stroke:'#555','stroke-width':0.8,'stroke-dasharray':'1.2,1.8'});}
 {const l=mk('line',g);setA(l,{x1:sx(0),x2:sx(0),y1:P.y0,y2:P.y1,stroke:'#555','stroke-width':0.8,'stroke-dasharray':'1.2,1.8'});}
 if(P.vline!==undefined){const l=mk('line',g);setA(l,{x1:sx(P.vline),x2:sx(P.vline),y1:P.y0,y2:P.y1,stroke:'#222','stroke-width':1});}
 // ticks
 const xt=P.xt, yt=P.yt;
 for(let i=0;i<xt.length;i++){
  const X=sx(xt[i]);
  for(const [ya,yb] of [[P.y1,P.y1-4],[P.y0,P.y0+4]]){const t=mk('line',g);setA(t,{x1:X,x2:X,y1:ya,y2:yb,stroke:'#333','stroke-width':0.8});}
  if(i<xt.length-1){for(let k=1;k<5;k++){const Xm=sx(xt[i]+(xt[i+1]-xt[i])*k/5);for(const [ya,yb] of [[P.y1,P.y1-2],[P.y0,P.y0+2]]){const t=mk('line',g);setA(t,{x1:Xm,x2:Xm,y1:ya,y2:yb,stroke:'#333','stroke-width':0.6});}}}
  if(P.showX){const tx=mk('text',g);setA(tx,{x:X,y:P.y1+12,'font-size':10.5,'text-anchor':'middle',fill:'#222'});tx.textContent=xt[i];}
 }
 for(let i=0;i<yt.length;i++){
  const Y=sy(yt[i]);
  for(const [xa,xb] of [[P.x0,P.x0+4],[P.x1,P.x1-4]]){const t=mk('line',g);setA(t,{x1:xa,x2:xb,y1:Y,y2:Y,stroke:'#333','stroke-width':0.8});}
  const tx=mk('text',g);setA(tx,{x:P.x0-3,y:Y+3.6,'font-size':10.5,'text-anchor':'end',fill:'#222'});tx.textContent=yt[i];
 }
 if(P.showX){const tt=mk('text',g);setA(tt,{x:(P.x0+P.x1)/2,y:P.y1+24,'font-size':10.5,'text-anchor':'middle',fill:'#222'});tt.textContent='Radial distances, arcsec';}
 const yt2=mk('text',g);setA(yt2,{x:0,y:0,'font-size':10,'text-anchor':'middle',fill:'#222',transform:`translate(${P.x0-29},${(P.y0+P.y1)/2}) rotate(-90)`});yt2.textContent=P.ytitle;
 // series
 const sg=mk('g',g); sg.setAttribute('clip-path',`url(#${cid})`);
 for(const S of P.series){
  for(const [xv,yv] of S.data){
   const X=sx(xv),Y=sy(yv);
   if(S.kind==='star'){
    const eb=mk('path',sg);setA(eb,{d:`M${X},${Y-5}V${Y+5}M${X-1.5},${Y-5}H${X+1.5}M${X-1.5},${Y+5}H${X+1.5}`,stroke:'#222','stroke-width':0.8,fill:'none'});
    
    const c=mk('circle',sg);setA(c,{cx:X,cy:Y,r:2.4,fill:'#111'});
    
   } else {
    const eb=mk('path',sg);setA(eb,{d:`M${X},${Y-9}V${Y+9}M${X-1.5},${Y-9}H${X+1.5}M${X-1.5},${Y+9}H${X+1.5}`,stroke:S.color,'stroke-width':0.8,fill:'none','stroke-opacity':0.75});
    
    const t=mk('path',sg);setA(t,{d:`M${X},${Y-2.4}L${X+2.2},${Y+1.6}L${X-2.2},${Y+1.6}Z`,fill:S.color});
    
   }
  }
 }
 for(const L of P.labels){const tx=mk('text',g);setA(tx,{x:L[1],y:L[2],'font-size':10.5,'text-anchor':L[3]||'start',fill:'#222'});tx.textContent=L[0];}
 const fr=mk('rect',g);setA(fr,{x:P.x0,y:P.y0,width:P.x1-P.x0,height:P.y1-P.y0,fill:'none',stroke:'#333','stroke-width':1});
 
}
(function(){
 const svg=document.getElementById('fig1');
 const cols={A:[1962,2150],B:[2215,2404],C:[2469,2659]};
 const rows=[[137,261,267,393],[430,552,559,682],[721,844,851,973]];
 function pair(name,col,row,xd,xt,vd,vt,dd,dt,vs,ds,vl,dl,vline){
  const [x0,x1]=cols[col],[v0,v1,d0,d1]=rows[row];
  drawPanel(svg,{name:name+'-velocity',x0,x1,y0:v0,y1:v1,xd,yd:vd,xt,yt:vt,showX:false,ytitle:'Velocity, km/s',series:vs,labels:vl,vline});
  drawPanel(svg,{name:name+'-dispersion',x0,x1,y0:d0,y1:d1,xd,yd:dd,xt,yt:dt,showX:true,ytitle:'Dispersion, km/s',series:ds,labels:dl,vline});
 }
 pair('ngc2350','A',0,[-30,30],xticks_30,[-205,205],yticks_v200,[0,170],yticks_d150,
  [{kind:'gas',color:C_HA,data:ngc2350_vel_ha},{kind:'gas',color:C_NII,data:ngc2350_vel_nii},{kind:'star',data:ngc2350_vel_star}],
  [{kind:'gas',color:C_HA,data:ngc2350_disp_ha},{kind:'gas',color:C_NII,data:ngc2350_disp_nii},{kind:'star',data:ngc2350_disp_star}],
  [['NGC 2350',2110,152,'middle'],['W',1972,212],['E',2120,212]],[]);
 pair('ngc3248','B',0,[-37,41],xticks_3248,[-205,205],yticks_v200,[0,122],yticks_d120,
  [{kind:'gas',color:C_HA,data:ngc3248_vel_nii},{kind:'gas',color:C_OIII,data:ngc3248_vel_oiii},{kind:'star',data:ngc3248_vel_star}],
  [{kind:'gas',color:C_NII,data:ngc3248_disp_nii},{kind:'gas',color:C_OIII,data:ngc3248_disp_oiii},{kind:'star',data:ngc3248_disp_star}],
  [['N-W',2224,212],['S-E',2377,212],['NGC 3248',2365,250,'middle']],[]);
 pair('ngc6654','C',0,[-68,80],xticks_6654,[-250,250],yticks_v200b,[0,200],yticks_d200,
  [{kind:'gas',color:C_HB,data:ngc6654_vel_hb},{kind:'gas',color:C_OIII,data:ngc6654_vel_oiii},{kind:'star',data:ngc6654_vel_star}],
  [{kind:'gas',color:C_HB,data:ngc6654_disp_hb},{kind:'gas',color:C_OIII,data:ngc6654_disp_oiii},{kind:'star',data:ngc6654_disp_star}],
  [['NGC 6654',2620,156,'middle'],['N',2478,212],['S',2629,212]],[],66);
 pair('ngc6798','A',1,[-40,40],xticks_40,[-250,250],yticks_v200b,[0,145],yticks_d140,
  [{kind:'gas',color:C_HA,data:ngc6798_vel_nii},{kind:'gas',color:C_NII,data:ngc6798_vel_nii},{kind:'star',data:ngc6798_vel_star}],
  [{kind:'gas',color:C_HA,data:ngc6798_disp_nii},{kind:'gas',color:C_NII,data:ngc6798_disp_nii},{kind:'star',data:ngc6798_disp_star}],
  [['NGC 6798',2122,444,'middle'],['S-E',1970,501],['N-W',2122,501]],[]);
 pair('ngc7351','B',1,[-30,30],xticks_30,[-105,105],yticks_v100,[0,122],yticks_d120,
  [{kind:'gas',color:C_HA,data:ngc7351_vel_ha},{kind:'gas',color:C_NII,data:ngc7351_vel_nii},{kind:'star',data:ngc7351_vel_star}],
  [{kind:'gas',color:C_HA,data:ngc7351_disp_ha},{kind:'gas',color:C_NII,data:ngc7351_disp_nii},{kind:'star',data:ngc7351_disp_star}],
  [['NGC 7351',2250,446,'middle'],['N',2224,501],['S',2377,501]],[]);
 pair('ugc4551','C',1,[-62,62],xticks_60,[-340,340],yticks_v300,[0,210],yticks_d200,
  [{kind:'gas',color:C_HA,data:ugc4551_vel_ha},{kind:'gas',color:C_OIII,data:ugc4551_vel_oiii},{kind:'star',data:ugc4551_vel_star}],
  [{kind:'gas',color:C_HA,data:ugc4551_disp_ha},{kind:'gas',color:C_OIII,data:ugc4551_disp_oiii},{kind:'star',data:ugc4551_disp_star}],
  [['W-N',2478,501],['E-S',2629,501],['UGC 4551',2620,528,'middle']],[]);
 pair('ugc9519','B',2,[-30,30],xticks_30,[-125,115],yticks_v100,[0,170],yticks_d150,
  [{kind:'gas',color:C_HA,data:ugc9519_vel_ha},{kind:'gas',color:C_NII,data:ugc9519_vel_nii},{kind:'star',data:ugc9519_vel_star}],
  [{kind:'gas',color:C_HA,data:ugc9519_disp_ha},{kind:'gas',color:C_NII,data:ugc9519_disp_nii},{kind:'star',data:ugc9519_disp_star}],
  [['UGC 9519',2372,733,'middle'],['W',2224,792],['E',2377,792]],[]);
})();

// ---------- Figure 2 data (velocity maps, km/s) ----------
const fig2_stellar_vel=[
 [-80,-90,-70,110,-100,-60,-90,-110,-30,-20],
 [-60,-70,-80,-50,-40,-60,-100,-50,-30,-10],
 [-50,-40,-30,-35,-40,-30,-40,-20,-10,0],
 [-20,-10,-5,-10,-10,-15,-10,0,0,5],
 [0,5,0,0,0,-5,0,5,5,10],
 [10,5,10,10,5,5,5,10,5,10],
 [20,10,10,20,20,15,10,10,5,5],
 [40,30,30,40,40,30,30,20,10,5],
 [110,80,90,110,100,110,100,60,50,30],
 [100,90,60,100,80,90,70,70,60,50],
 [110,60,80,70,90,80,80,70,60,50],
 [80,90,70,70,80,110,110,70,60,50]];
const fig2_oiii_vel=[
 [null,null,null,null,null,null,null,null,null,null],
 [null,50,null,-150,-100,-150,null,null,280,null],
 [60,80,-80,-200,-220,-180,-100,null,250,null],
 [null,100,40,-50,-60,-100,20,80,null,null],
 [300,120,60,null,null,40,60,100,null,null],
 [250,200,80,null,null,150,80,100,60,null],
 [null,100,150,200,300,250,180,60,80,null],
 [250,null,200,300,250,200,300,120,100,null],
 [150,200,280,300,200,300,200,50,80,-50],
 [null,100,200,150,250,300,100,null,-150,null],
 [null,null,150,null,100,null,200,null,null,null],
 [null,null,null,null,100,null,null,null,null,null]];
const fig2_ticks=[-5,0,5,10];
const fig2_yticks=[5,0,-5,-10];
function rainbow(t){
 const st=[[0,[40,0,160]],[0.15,[20,30,230]],[0.33,[0,190,255]],[0.5,[50,220,60]],[0.7,[250,250,0]],[0.85,[255,140,0]],[1,[240,0,0]]];
 t=Math.max(0,Math.min(1,t));
 for(let i=0;i<st.length-1;i++){if(t<=st[i+1][0]){const f=(t-st[i][0])/(st[i+1][0]-st[i][0]);const a=st[i][1],b=st[i+1][1];return `rgb(${Math.round(a[0]+(b[0]-a[0])*f)},${Math.round(a[1]+(b[1]-a[1])*f)},${Math.round(a[2]+(b[2]-a[2])*f)})`;}}
 return 'rgb(240,0,0)';
}
(function(){
 const svg=document.getElementById('fig2');
 const OX=3230,OY=590;
 const defs=mk('defs',svg);
 const lg=mk('linearGradient',defs);setA(lg,{id:'cbar',x1:0,y1:1,x2:0,y2:0});
 for(let i=0;i<=10;i++){const s=mk('stop',lg);setA(s,{offset:i/10,'stop-color':i===0?'#000':rainbow(i/10)});}
 function map(name,boxL,boxR,cx0,vals,vmax,title,cbLabel){
  const g=mk('g',svg);
  
  
  const ppx=7.05,ppy=7.2, cy0=681;
  const ax=a=>cx0+a*ppx-OX, ay=d=>cy0-d*ppy-OY;
  const top=615-OY, bot=772-OY, L=boxL-OX, R=boxR-OX;
  const nx=vals[0].length, ny=vals.length;
  const x0=ax(-9.3), cw=(ax(9.3)-ax(-9.3))/nx;
  const ch=(bot-top)/ny;
  const cid='f2clip'+name;
  const cp=mk('clipPath',g);cp.setAttribute('id',cid);const cr=mk('rect',cp);setA(cr,{x:L,y:top,width:R-L,height:bot-top});
  for(let r=0;r<ny;r++)for(let c=0;c<nx;c++){
   const v=vals[r][c]; if(v===null)continue;
   const rc=mk('rect',g);setA(rc,{x:x0+c*cw,y:top+r*ch,width:cw+0.5,height:ch+0.5,fill:rainbow((v+vmax)/(2*vmax))});
   
  }
  const cg=mk('g',g);cg.setAttribute('clip-path',`url(#${cid})`);
  for(const [rx,ry] of [[9,12],[17,24],[27,38],[38,54],[50,72]]){const e=mk('ellipse',cg);setA(e,{cx:ax(0),cy:ay(0),rx,ry,fill:'none',stroke:'#444','stroke-width':0.6,'stroke-opacity':0.7});}
  const cb=mk('rect',g);setA(cb,{x:R-7,y:top,width:7,height:79,fill:'url(#cbar)'});
  const fr=mk('rect',g);setA(fr,{x:L,y:top,width:R-L,height:bot-top,fill:'none',stroke:'#222','stroke-width':1});
  for(const t of fig2_ticks){const X=ax(t);const tk=mk('line',g);setA(tk,{x1:X,x2:X,y1:bot,y2:bot-3,stroke:'#222'});
   const tx=mk('text',g);setA(tx,{x:X,y:bot+17,'font-size':10,'text-anchor':'middle',fill:'#222'});tx.textContent=t+'"';}
  for(const t of fig2_yticks){const Y=ay(t);const tk=mk('line',g);setA(tk,{x1:L,x2:L+3,y1:Y,y2:Y,stroke:'#222'});
   const tx=mk('text',g);setA(tx,{x:L-3,y:Y+3.5,'font-size':10,'text-anchor':'end',fill:'#222'});tx.textContent=t+'"';}
  const tt=mk('text',g);setA(tt,{x:(L+R)/2,y:top-5,'font-size':12,'text-anchor':'middle',fill:'#222'});tt.textContent=title;
  const cl=mk('text',g);setA(cl,{x:0,y:0,'font-size':8,'text-anchor':'middle',fill:'#222',transform:`translate(${R+9},${top+40}) rotate(-90)`});cl.textContent=cbLabel;
 }
 map('stellar-velocity-map',3258,3401,3322,fig2_stellar_vel,110,'Vr, km/s','-110. / 110.');
 map('oiii-velocity-map',3451,3594,3515,fig2_oiii_vel,300,'[OIII] Vr, km/s','-300. / 300.');
})();
</script>
</body></html>
